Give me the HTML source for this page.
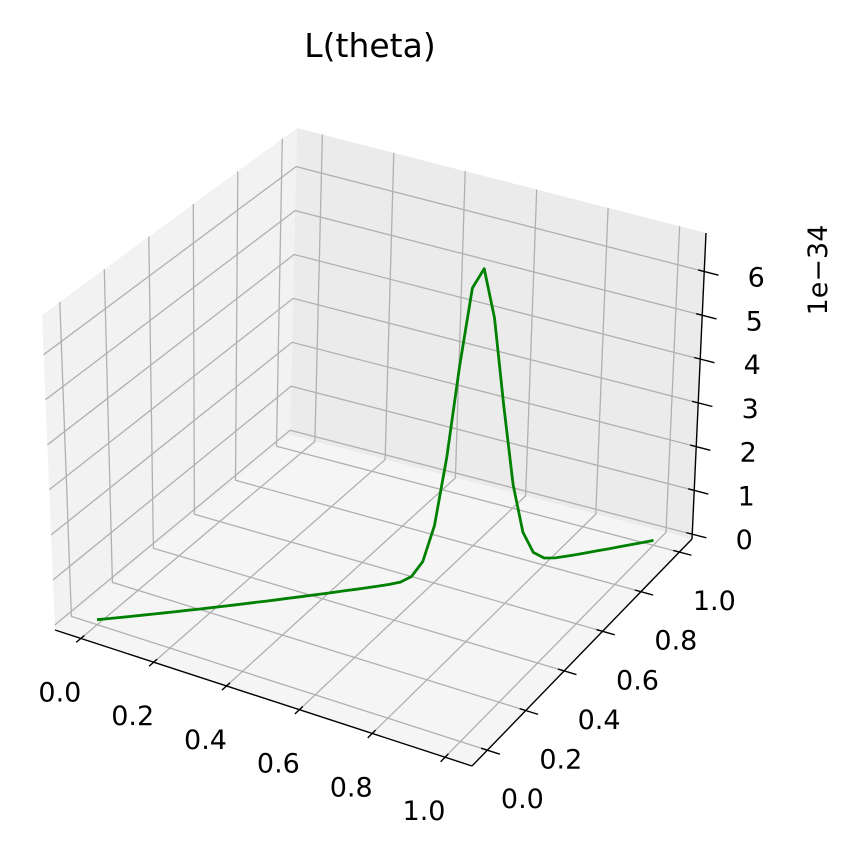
<!DOCTYPE html>
<html><head><meta charset="utf-8">
<style>
html,body{margin:0;padding:0;background:#fff;}
svg{display:block;font-family:"DejaVu Sans","Liberation Sans",sans-serif;}
</style></head>
<body>
<svg id="chart" width="844" height="852" viewBox="0 0 844 852" xmlns="http://www.w3.org/2000/svg">
<rect width="844" height="852" fill="#fff"/>
<text x="370" y="57" font-size="33" text-anchor="middle" fill="#000">L(theta)</text>
<text x="0" y="0" font-size="27" text-anchor="middle" fill="#000" transform="translate(827,270) rotate(-90)">1e−34</text>
<g id="panes"></g><g id="grid"></g><g id="axes"></g><g id="series"></g>
</svg>
<script>
const thetaValues = [0,0.02,0.04,0.06,0.08,0.1,0.12,0.14,0.16,0.18,0.2,0.22,0.24,0.26,0.28,0.3,0.32,0.34,0.36,0.38,0.4,0.42,0.44,0.46,0.48,0.5,0.52,0.54,0.56,0.58,0.6,0.62,0.64,0.66,0.68,0.7,0.72,0.74,0.76,0.78,0.8,0.82,0.84,0.86,0.88,0.9,0.92,0.94,0.96,0.98,1];
const likelihoodValues = [0,0,0,0,0,0,0,0,0,0,0,0,0,0,0,0,0,0,0,0,0,0,0,0,0,0.001,0.003,0.02,0.11,0.41,1.19,2.68,4.7,6.45,6.85,5.7,3.66,1.84,0.72,0.22,0.05,0.01,0.002,0,0,0,0,0,0,0,0];
const xTicks = [0,0.2,0.4,0.6,0.8,1.0];
const yTicks = [0,0.2,0.4,0.6,0.8,1.0];
const zTicks = [0,1,2,3,4,5,6];
const xTickLabels = ["0.0","0.2","0.4","0.6","0.8","1.0"];
const yTickLabels = ["0.0","0.2","0.4","0.6","0.8","1.0"];
const zTickLabels = ["0","1","2","3","4","5","6"];

const XMIN=-0.071,XMAX=1.074,YMIN=-0.08,YMAX=1.066,ZMIN=-0.11,ZMAX=6.88;
const C={p000:[55,630],p100:[472,766],p110:[692,539],p010:[290,435],
         p001:[42,315],p101:[473,454],p111:[706,233],p011:[297,128]};
function lerp(a,b,t){return [a[0]+(b[0]-a[0])*t,a[1]+(b[1]-a[1])*t];}
function projN(u,v,w){
  const b0=lerp(lerp(C.p000,C.p100,u),lerp(C.p010,C.p110,u),v);
  const b1=lerp(lerp(C.p001,C.p101,u),lerp(C.p011,C.p111,u),v);
  return lerp(b0,b1,w);
}
function U(x){return (x-XMIN)/(XMAX-XMIN);}
function V(y){return (y-YMIN)/(YMAX-YMIN);}
function W(z){return (z-ZMIN)/(ZMAX-ZMIN);}
function proj(x,y,z){return projN(U(x),V(y),W(z));}
const NS="http://www.w3.org/2000/svg";
function mk(tag,parent,attrs){const e=document.createElementNS(NS,tag);for(const k in attrs)e.setAttribute(k,attrs[k]);parent.appendChild(e);return e;}
function poly(pts){return pts.map(p=>p[0].toFixed(1)+","+p[1].toFixed(1)).join(" ");}

const panes=document.getElementById('panes');
let e;
e=mk('polygon',panes,{points:poly([C.p000,C.p010,C.p011,C.p001]),fill:'#f2f2f2'});


e=mk('polygon',panes,{points:poly([C.p010,C.p110,C.p111,C.p011]),fill:'#ebebeb'});


e=mk('polygon',panes,{points:poly([C.p000,C.p100,C.p110,C.p010]),fill:'#f5f5f5'});



const grid=document.getElementById('grid');
const GS={stroke:'#b0b0b0','stroke-width':1.3,fill:'none'};
function gl3(a,b,c,name){const l=mk('polyline',grid,Object.assign({points:poly([a,b,c])},GS));}
xTicks.forEach(x=>{const u=U(x);gl3(projN(u,0,0),projN(u,1,0),projN(u,1,1),'x-gridline');});
yTicks.forEach(y=>{const v=V(y);gl3(projN(1,v,0),projN(0,v,0),projN(0,v,1),'y-gridline');});
zTicks.forEach(z=>{const w=W(z);gl3(projN(0,0,w),projN(0,1,w),projN(1,1,w),'z-gridline');});

const axes=document.getElementById('axes');
const AS={stroke:'#000','stroke-width':1.4,fill:'none'};
e=mk('line',axes,Object.assign({x1:C.p000[0],y1:C.p000[1],x2:C.p100[0],y2:C.p100[1]},AS));


e=mk('line',axes,Object.assign({x1:C.p100[0],y1:C.p100[1],x2:C.p110[0],y2:C.p110[1]},AS));


e=mk('line',axes,Object.assign({x1:C.p110[0],y1:C.p110[1],x2:C.p111[0],y2:C.p111[1]},AS));


function tickLine(a,b,name){const t=mk('line',axes,Object.assign({x1:a[0],y1:a[1],x2:b[0],y2:b[1]},AS));}
function label(p,txt,name){const t=mk('text',axes,{x:p[0].toFixed(1),y:p[1].toFixed(1),'font-size':27,'text-anchor':'middle',fill:'#000'});t.textContent=txt;}
xTicks.forEach((x,i)=>{const u=U(x);tickLine(projN(u,-0.02,0),projN(u,0.015,0),'x-tick');const p=projN(u,0,0);label([p[0]-21,p[1]+63],xTickLabels[i],'x-tick-label');});
yTicks.forEach((y,i)=>{const v=V(y);tickLine(projN(0.985,v,0),projN(1.03,v,0),'y-tick');const p=projN(1,v,0);label([p[0]+35,p[1]+58],yTickLabels[i],'y-tick-label');});
zTicks.forEach((z,i)=>{const w=W(z);tickLine(projN(0.985,1,w),projN(1.035,1,w),'z-tick');const p=projN(1,1,w);label([p[0]+52,p[1]+15],zTickLabels[i],'z-tick-label');});

const series=document.getElementById('series');
const pts=thetaValues.map((t,i)=>proj(t,t,likelihoodValues[i]));
e=mk('polyline',series,{points:poly(pts),fill:'none',stroke:'#008000','stroke-width':2.8,'stroke-linejoin':'round'});


</script>
</body></html>
